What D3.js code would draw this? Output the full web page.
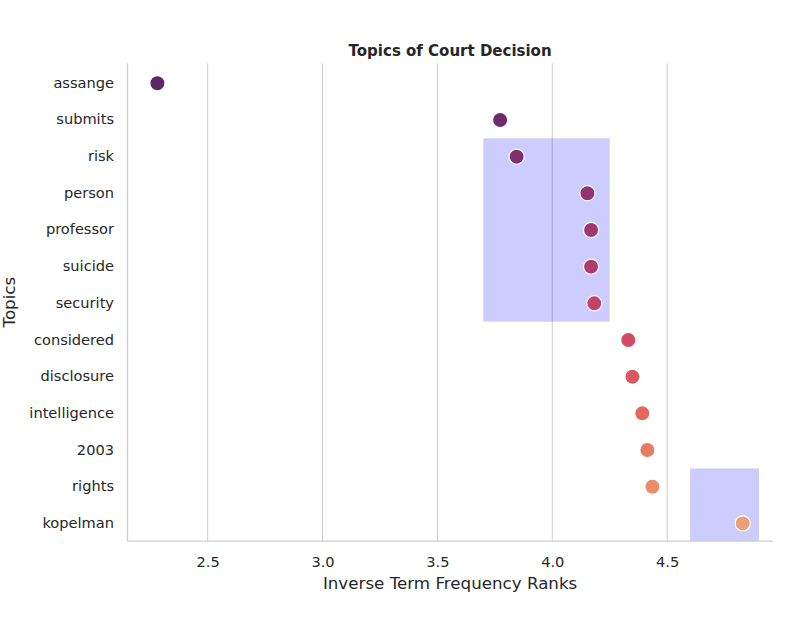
<!DOCTYPE html>
<html>
<head>
<meta charset="utf-8">
<script src="https://cdn.jsdelivr.net/npm/d3@7"></script>
<style>
  body { margin: 0; background: #fff; }
  text { font-family: "DejaVu Sans", sans-serif; fill: #262626; }
</style>
</head>
<body>
<div id="chart"></div>
<script>
// Topics and their inverse term frequency ranks
const topics = ['assange', 'submits', 'risk', 'person', 'professor', 'suicide', 'security',
  'considered', 'disclosure', 'intelligence', '2003', 'rights', 'kopelman'];
const ranks = [2.281, 3.773, 3.845, 4.153, 4.169, 4.169, 4.183,
  4.331, 4.349, 4.392, 4.414, 4.436, 4.829];
const xTicks = [2.5, 3.0, 3.5, 4.0, 4.5];

// highlighted regions: x range and first/last topic
const highlights = [
  { x0: 3.7, x1: 4.25, from: 'risk', to: 'security' },
  { x0: 4.6, x1: 4.9, from: 'rights', to: 'kopelman' }
];

const W = 800, H = 644;
const plotL = 127.5, plotR = 772.7, plotT = 63.3, plotB = 541;

const svg = d3.select('#chart').append('svg')
  .attr('width', W)
  .attr('height', H);

const x = d3.scaleLinear()
  .domain([2.151, 4.9595])
  .range([plotL, plotR]);

// categorical axis as an index scale, so we can span half rows
const y = d3.scaleLinear()
  .domain([-0.545, 12.48])
  .range([plotT, plotB]);

// flare palette, reversed across topics
const flare = d3.piecewise(d3.interpolateRgb,
  ['#edb081', '#e98d6b', '#e3685c', '#d14a61', '#b13c6c', '#8f3371', '#6c2b6d', '#4b2362']);
const n = topics.length;
const color = i => flare(1 - (i + 1) / (n + 1));

svg.append('defs').append('clipPath')
  .attr('id', 'plot-clip')
  .append('rect')
  .attr('x', plotL).attr('y', plotT)
  .attr('width', plotR - plotL).attr('height', plotB - plotT);

// vertical grid
svg.append('g')
  .selectAll('line')
  .data(xTicks)
  .enter().append('line')
  .attr('x1', d => x(d)).attr('x2', d => x(d))
  .attr('y1', plotT).attr('y2', plotB)
  .attr('stroke', '#cccccc')
  .attr('stroke-width', 1);

// highlight boxes
svg.append('g')
  .attr('clip-path', 'url(#plot-clip)')
  .selectAll('rect')
  .data(highlights)
  .enter().append('rect')
  .attr('x', d => x(d.x0))
  .attr('width', d => x(d.x1) - x(d.x0))
  .attr('y', d => y(topics.indexOf(d.from) - 0.5))
  .attr('height', d => y(topics.indexOf(d.to) + 0.5) - y(topics.indexOf(d.from) - 0.5))
  .attr('fill', 'rgba(0,0,255,0.2)');

// spines (left and bottom)
svg.append('line')
  .attr('x1', plotL).attr('x2', plotL).attr('y1', plotT).attr('y2', plotB)
  .attr('stroke', '#cccccc').attr('stroke-width', 1.25);
svg.append('line')
  .attr('x1', plotL).attr('x2', plotR).attr('y1', plotB).attr('y2', plotB)
  .attr('stroke', '#cccccc').attr('stroke-width', 1.25);

// x axis
const xAxis = svg.append('g')
  .attr('transform', `translate(0,${plotB})`)
  .call(d3.axisBottom(x).tickValues(xTicks).tickFormat(d3.format('.1f')).tickSize(0).tickPadding(0));
xAxis.select('.domain').remove();
xAxis.selectAll('text')
  .attr('y', 26)
  .attr('dy', null)
  .style('font-size', '14.6px')
  .style('font-family', '"DejaVu Sans", sans-serif')
  .attr('fill', '#262626');

// y axis
const yAxis = svg.append('g')
  .attr('transform', `translate(${plotL},0)`)
  .call(d3.axisLeft(d3.scalePoint().domain(topics).range([y(0), y(n - 1)]))
    .tickSize(0).tickPadding(13.5));
yAxis.select('.domain').remove();
yAxis.selectAll('text')
  .attr('dy', '-1.5')
  .attr('dominant-baseline', 'central')
  .style('font-size', '14.6px')
  .style('font-family', '"DejaVu Sans", sans-serif')
  .attr('fill', '#262626');

// points
svg.append('g')
  .selectAll('circle')
  .data(topics)
  .enter().append('circle')
  .attr('cx', (d, i) => x(ranks[i]))
  .attr('cy', (d, i) => y(i))
  .attr('r', 7.6)
  .attr('fill', (d, i) => color(i))
  .attr('stroke', '#fff')
  .attr('stroke-width', 1.2);

// labels
svg.append('text')
  .attr('x', (plotL + plotR) / 2)
  .attr('y', 56)
  .attr('text-anchor', 'middle')
  .style('font-size', '15px')
  .style('font-weight', 'bold')
  .text('Topics of Court Decision');

svg.append('text')
  .attr('x', (plotL + plotR) / 2)
  .attr('y', 589)
  .attr('text-anchor', 'middle')
  .style('font-size', '16.7px')
  .text('Inverse Term Frequency Ranks');

svg.append('text')
  .attr('transform', `translate(15,${(plotT + plotB) / 2}) rotate(-90)`)
  .attr('text-anchor', 'middle')
  .style('font-size', '16.7px')
  .text('Topics');
</script>
</body>
</html>
